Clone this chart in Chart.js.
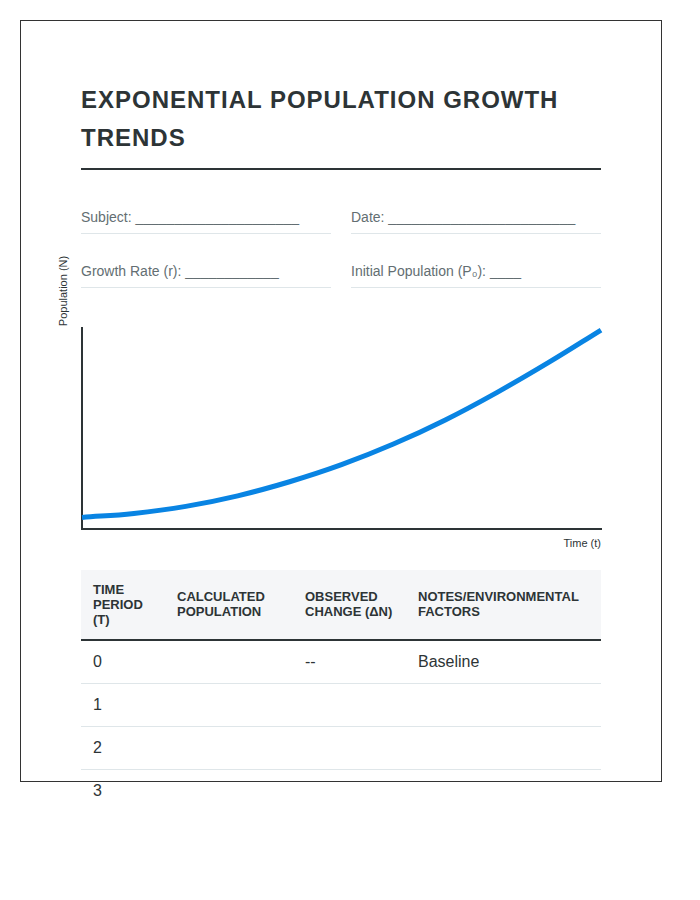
<!DOCTYPE html>
<html>
<head>
<meta charset="utf-8">
<script src="https://cdn.jsdelivr.net/npm/chart.js@4/dist/chart.umd.min.js"></script>
<style>
html,body{margin:0;padding:0;background:#fff;}
body{font-family:"Liberation Sans",Arial,sans-serif;color:#2d3436;}
.page{position:absolute;left:20px;top:20px;width:642px;height:762px;box-sizing:border-box;border:1px solid #333;padding:60px;}
h1{margin:0;font-size:24px;line-height:38.4px;letter-spacing:1px;font-weight:bold;text-transform:uppercase;padding-bottom:10px;border-bottom:2px solid #2d3436;color:#2d3436;}
.form{display:grid;grid-template-columns:250px 250px;column-gap:20px;row-gap:21px;margin-top:31px;}
.field{font-size:14px;line-height:16px;padding:8px 0;border-bottom:1px solid #dfe6e9;color:#636e72;white-space:nowrap;}
.chart{position:relative;margin-top:40px;height:202px;}
.chart canvas{position:absolute;left:-5px;top:-6px;}
.ylab{position:absolute;left:-18px;top:-37px;transform:translate(-50%,-50%) rotate(-90deg);font-size:11px;line-height:13px;white-space:nowrap;color:#2d3436;}
.xlab{position:absolute;right:0;top:209px;font-size:11px;line-height:13px;white-space:nowrap;color:#2d3436;}
table{margin-top:40px;width:520px;border-collapse:collapse;table-layout:fixed;}
th{background:#f5f6f8;padding:12px;font-size:13px;line-height:15px;font-weight:bold;text-align:left;text-transform:uppercase;color:#2d3436;border-bottom:2px solid #2d3436;vertical-align:middle;}
td{padding:12px;font-size:16px;line-height:18px;color:#2d3436;border-bottom:1px solid #dfe6e9;}
tr:last-child td{border-bottom:none;}
</style>
</head>
<body>
<div class="page">
  <h1 id="title"></h1>
  <div class="form" id="form"></div>
  <div class="chart">
    <canvas id="c" width="531" height="213"></canvas>
    <div class="ylab" id="ylab"></div>
    <div class="xlab" id="xlab"></div>
  </div>
  <table id="tbl">
    <colgroup><col style="width:84px"><col style="width:128px"><col style="width:113px"><col style="width:195px"></colgroup>
    <thead><tr id="thead"></tr></thead>
    <tbody id="tbody"></tbody>
  </table>
</div>
<script>
// ---- data ----
const titleText = "Exponential Population Growth Trends";
const formFields = ["Subject: _____________________", "Date: ________________________", "Growth Rate (r): ____________", "Initial Population (P\u2080): ____"];
const yAxisLabel = "Population (N)";
const xAxisLabel = "Time (t)";
const timeSteps = [0, 1, 2, 3, 4, 5, 6, 7, 8, 9, 10];
const population = [11.5, 15.5, 22.5, 33, 47, 64, 84.5, 108.5, 136, 166, 198];
const tableHeaders = ["Time Period (T)", "Calculated Population", "Observed Change (\u0394N)", "Notes/Environmental Factors"];
const tablePeriods = ["0", "1", "2", "3"];
const tableCalculated = ["", "", "", ""];
const tableChange = ["--", "", "", ""];
const tableNotes = ["Baseline", "", "", ""];

// ---- page text ----
document.getElementById('title').textContent = titleText;
const form = document.getElementById('form');
formFields.forEach(f => { const d = document.createElement('div'); d.className = 'field'; d.textContent = f; form.appendChild(d); });
document.getElementById('ylab').textContent = yAxisLabel;
document.getElementById('xlab').textContent = xAxisLabel;
const thead = document.getElementById('thead');
tableHeaders.forEach(h => { const th = document.createElement('th'); th.textContent = h; thead.appendChild(th); });
const tbody = document.getElementById('tbody');
tablePeriods.forEach((p, i) => {
  const tr = document.createElement('tr');
  [p, tableCalculated[i], tableChange[i], tableNotes[i]].forEach(v => { const td = document.createElement('td'); td.textContent = v; tr.appendChild(td); });
  tbody.appendChild(tr);
});

// ---- chart ----
new Chart(document.getElementById('c'), {
  type: 'line',
  data: {
    datasets: [{
      data: timeSteps.map((t, i) => ({ x: t, y: population[i] })),
      borderColor: '#0984e3',
      borderWidth: 5,
      pointRadius: 0,
      fill: false,
      tension: 0.4,
      clip: false
    }]
  },
  options: {
    responsive: false,
    animation: false,
    devicePixelRatio: 1,
    layout: { padding: 6 },
    plugins: { legend: { display: false }, tooltip: { enabled: false } },
    scales: {
      x: {
        type: 'linear', min: 0, max: 10,
        grid: { display: false, drawTicks: false },
        ticks: { display: false },
        border: { display: true, width: 2, color: '#2d3436' }
      },
      y: {
        min: 0, max: 200,
        grid: { display: false, drawTicks: false },
        ticks: { display: false },
        border: { display: true, width: 2, color: '#2d3436' }
      }
    }
  }
});
</script>
</body>
</html>
